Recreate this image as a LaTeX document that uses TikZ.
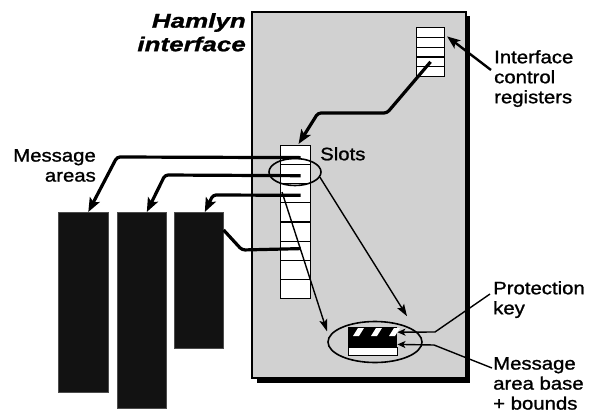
\documentclass[tikz,border=0pt]{standalone}
\usepackage{fontspec}
\setmainfont[FakeStretch=1.13,FakeBold=1.2]{Liberation Sans}
\newfontfamily\hamfont[FakeStretch=1.3,FakeBold=1.2]{Liberation Sans}
\usetikzlibrary{arrows.meta,shapes.geometric,calc}
\definecolor{panelgray}{gray}{0.82}
\definecolor{areablack}{gray}{0.07}
\tikzset{
  lbl/.style={inner sep=0pt, font=\fontsize{18}{20}\selectfont, align=left},
  cell/.style={draw, line width=1.1pt, fill=white, inner sep=0pt, anchor=north west},
  area/.style={fill=areablack, draw=black!70, line width=0.6pt, inner sep=0pt, anchor=north west},
  thickarrow/.style={line width=3.2pt, rounded corners=3pt, -{Stealth[length=14pt,width=11pt,inset=3pt]}},
  thickline/.style={line width=3.2pt, rounded corners=3pt},
  thinarrow/.style={line width=1.4pt, -{Stealth[length=12pt,width=8pt,inset=2.5pt]}},
  smallarrow/.style={line width=1.4pt, -{Stealth[length=8pt,width=7pt,inset=2pt]}},
}
\begin{document}
\begin{tikzpicture}[x=1pt,y=-1pt]
\useasboundingbox (0,0) rectangle (589,410);
% panel with shadow
\node[fill=black, inner sep=0pt, minimum width=213pt, minimum height=367pt, anchor=north west] (shadow) at (257,16) {};
\node[draw, fill=panelgray, line width=1.5pt, inner sep=0pt, minimum width=214pt, minimum height=366pt, anchor=north west] (panel) at (251,11) {};
% title
\node[inner sep=0pt, anchor=north east, align=right, font=\hamfont\bfseries\itshape\fontsize{20}{23.5}\selectfont] (title) at (246,13) {Hamlyn\\interface};
% registers
\foreach \i in {1,...,5}{
  \node[cell, minimum width=28pt, minimum height=9.8pt] (r\i) at (416,{27+(\i-1)*9.8}) {};
}
% slots
\foreach \i in {1,...,8}{
  \node[cell, minimum width=30pt, minimum height=19.1pt] (s\i) at (280,{145+(\i-1)*19.1}) {};
}
% message areas
\node[area, minimum width=50pt, minimum height=180pt] (m1) at (58,212) {};
\node[area, minimum width=49pt, minimum height=196pt] (m2) at (117,212) {};
\node[area, minimum width=49pt, minimum height=136pt] (m3) at (174,212) {};
% labels
\node[lbl, anchor=north west] (icr) at (494,50) {Interface\\control\\registers};
\node[lbl, anchor=north west] (slots) at (320,147) {Slots};
\node[lbl, anchor=north east, align=right] (ma) at (96,149) {Message\\areas};
\node[lbl, anchor=north west] (pk) at (493,281) {Protection\\key};
\node[lbl, anchor=north west] (mab) at (493,357) {Message\\area base\\+ bounds};
% arrow: label to registers
\coordinate (icrs) at (491,70);
\draw[line width=2.4pt, -{Stealth[length=13pt,width=10pt,inset=3pt]}] (icrs) -- ([xshift=2pt,yshift=-4pt]r1.east);
% registers to slots
\coordinate (k1) at (387,113);
\coordinate (k2) at (318,113);
\draw[thickarrow] (r4.center) -- (k1) -- (k2) -- ([xshift=3pt,yshift=1pt]s1.north);
% slots to message areas
\coordinate (a1) at (117,157);
\coordinate (a2) at (165,175);
\coordinate (a3) at (213,195);
\coordinate (a4) at (242,250);
\draw[thickarrow] ([xshift=5pt,yshift=-2.5pt]s1.center) -- (a1) -- ([xshift=5pt]m1.north);
\draw[thickarrow] ([xshift=5pt,yshift=-1.5pt]s2.center) -- (a2) -- ([xshift=5pt]m2.north);
\draw[thickarrow] ([xshift=5pt,yshift=-2pt]s3.center) -- (a3) -- ([xshift=6pt]m3.north);
\draw[thickline] ([xshift=5pt,yshift=2pt]s6.center) -- (a4) -- ([yshift=-18pt]m3.north east);
% selection ellipse
\node[draw, ellipse, line width=1.6pt, minimum width=52pt, minimum height=27pt, inner sep=0pt] (sel) at (295,172) {};
% key ellipse and record
\node[draw, ellipse, line width=1.6pt, minimum width=94pt, minimum height=41pt, inner sep=0pt] (key) at (375,342) {};
\node[fill=black, inner sep=0pt, minimum width=49pt, minimum height=20pt, anchor=north west] (rec) at (348,327) {};
\node[draw, fill=white, line width=0.8pt, inner sep=0pt, minimum width=49pt, minimum height=8pt, anchor=north west] (recb) at (348,347) {};
\foreach \x in {353,371,389}{
  \fill[white] (\x,336) -- (\x+6,336) -- (\x+11,328) -- (\x+5,328) -- cycle;
}
% thin arrows to key
\coordinate (t1) at (282,192);
\draw[thinarrow] (t1) -- ([xshift=-48pt,yshift=32pt]key.south);
\draw[thinarrow] ([xshift=-2pt,yshift=-5pt]sel.east) -- ([xshift=32pt,yshift=4.5pt]key.north);
% label lines to record
\coordinate (p1) at (435,332);
\coordinate (p2) at (434,345);
\draw[smallarrow] ([xshift=-3pt,yshift=-13pt]pk.north west) -- (p1) -- ([yshift=5pt]rec.east);
\draw[smallarrow] ([xshift=-1pt,yshift=-11pt]mab.north west) -- (p2) -- ([yshift=3pt]rec.south east);
\end{tikzpicture}
\end{document}
